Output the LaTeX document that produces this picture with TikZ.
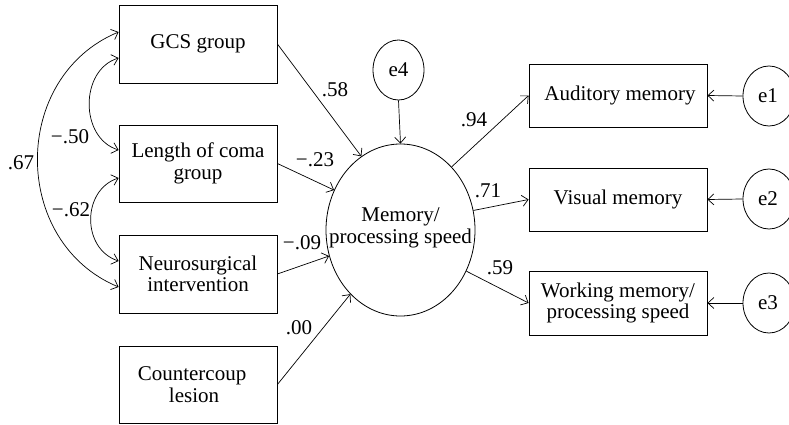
\documentclass[tikz,border=0pt]{standalone}
\usepackage{fontspec}
\setmainfont{Liberation Serif}
\usetikzlibrary{arrows.meta,shapes.geometric}
\begin{document}
\begin{tikzpicture}[x=1pt,y=-1pt,
  font=\fontsize{21}{21.5}\selectfont,
  box/.style={draw,line width=0.8pt,rectangle,inner sep=0pt,align=center},
  lat/.style={draw,line width=0.8pt,ellipse,inner sep=0pt,align=center},
  arr/.style={line width=0.7pt,-{Straight Barb[length=6pt,width=11pt]}},
  dbl/.style={line width=0.7pt,{Straight Barb[length=6pt,width=11pt]}-{Straight Barb[length=6pt,width=11pt]}},
  lbl/.style={inner sep=0pt}]
\useasboundingbox (0,0) rectangle (789,425);
% left boxes
\node[box,minimum width=158pt,minimum height=78pt] (gcs) at (198,44) {GCS group};
\node[box,minimum width=158pt,minimum height=77pt] (len) at (198,163.5) {Length of coma\\group};
\node[box,minimum width=158pt,minimum height=78pt] (neu) at (198,274) {Neurosurgical\\intervention};
\node[box,minimum width=158pt,minimum height=77pt] (cou) at (198,384.5) {\hspace*{-12pt}Countercoup\\\hspace*{-8pt}lesion};
% latent
\node[lat,minimum width=149pt,minimum height=172pt] (mem) at (400.5,230) {};
\node[lbl,align=center] (memt) at (400.5,228) {Memory/\\processing speed};
\node[lat,minimum width=51pt,minimum height=60pt] (e4) at (398.5,70) {};
\node[lbl] (e4t) at (e4) {e4};
% right boxes
\node[box,minimum width=178pt,minimum height=63pt] (aud) at (618,95.5) {\hspace*{4pt}Auditory memory};
\node[box,minimum width=178pt,minimum height=63pt] (vis) at (618,199.5) {Visual memory};
\node[box,minimum width=178pt,minimum height=64pt] (wor) at (618,303) {Working memory/\\processing speed};
\node[lat,minimum width=52pt,minimum height=60pt] (e1) at (769,96) {};
\node[lat,minimum width=52pt,minimum height=60pt] (e2) at (769,199) {};
\node[lat,minimum width=52pt,minimum height=60pt] (e3) at (769,303) {};
\node[lbl] (e1t) at (768,96) {e1};
\node[lbl] (e2t) at (768,199) {e2};
\node[lbl] (e3t) at (768,303) {e3};
% paths
\draw[arr] (gcs.east) -- (mem.118);
\draw[arr] (len.east) -- (mem.149);
\draw[arr] (neu.east) -- (mem.200);
\draw[arr] (cou.east) -- (mem.232);
\draw[arr] (e4.south) -- (mem.north);
\draw[arr] (mem.51) -- (aud.west);
\draw[arr] (mem.15) -- (vis.west);
\draw[arr] (mem.-32) -- (wor.west);
\draw[arr] (e1.west) -- (aud.east);
\draw[arr] (e2.west) -- (vis.east);
\draw[arr] (e3.west) -- (wor.east);
% correlations
\draw[dbl] ([yshift=-14pt]gcs.west) .. controls +(-39,12) and +(-39,-12) .. ([yshift=13.5pt]len.west);
\draw[dbl] ([yshift=-14.5pt]len.west) .. controls +(-37,12) and +(-37,-12) .. ([yshift=13pt]neu.west);
\draw[dbl] ([yshift=12pt]gcs.west) .. controls +(-108,45) and +(-108,-45) .. ([yshift=-13pt]neu.west);
% labels
\node[lbl] (l58) at (335,90) {.58};
\node[lbl] (l23) at (315,160) {−.23};
\node[lbl] (l09) at (302,243) {−.09};
\node[lbl] (l00) at (299,328) {.00};
\node[lbl] (l94) at (474,120) {.94};
\node[lbl] (l71) at (488,191) {.71};
\node[lbl] (l59) at (500,268) {.59};
\node[lbl] (l50) at (70,137) {−.50};
\node[lbl] (l67) at (21,163) {.67};
\node[lbl] (l62) at (71,210) {−.62};
\end{tikzpicture}
\end{document}
